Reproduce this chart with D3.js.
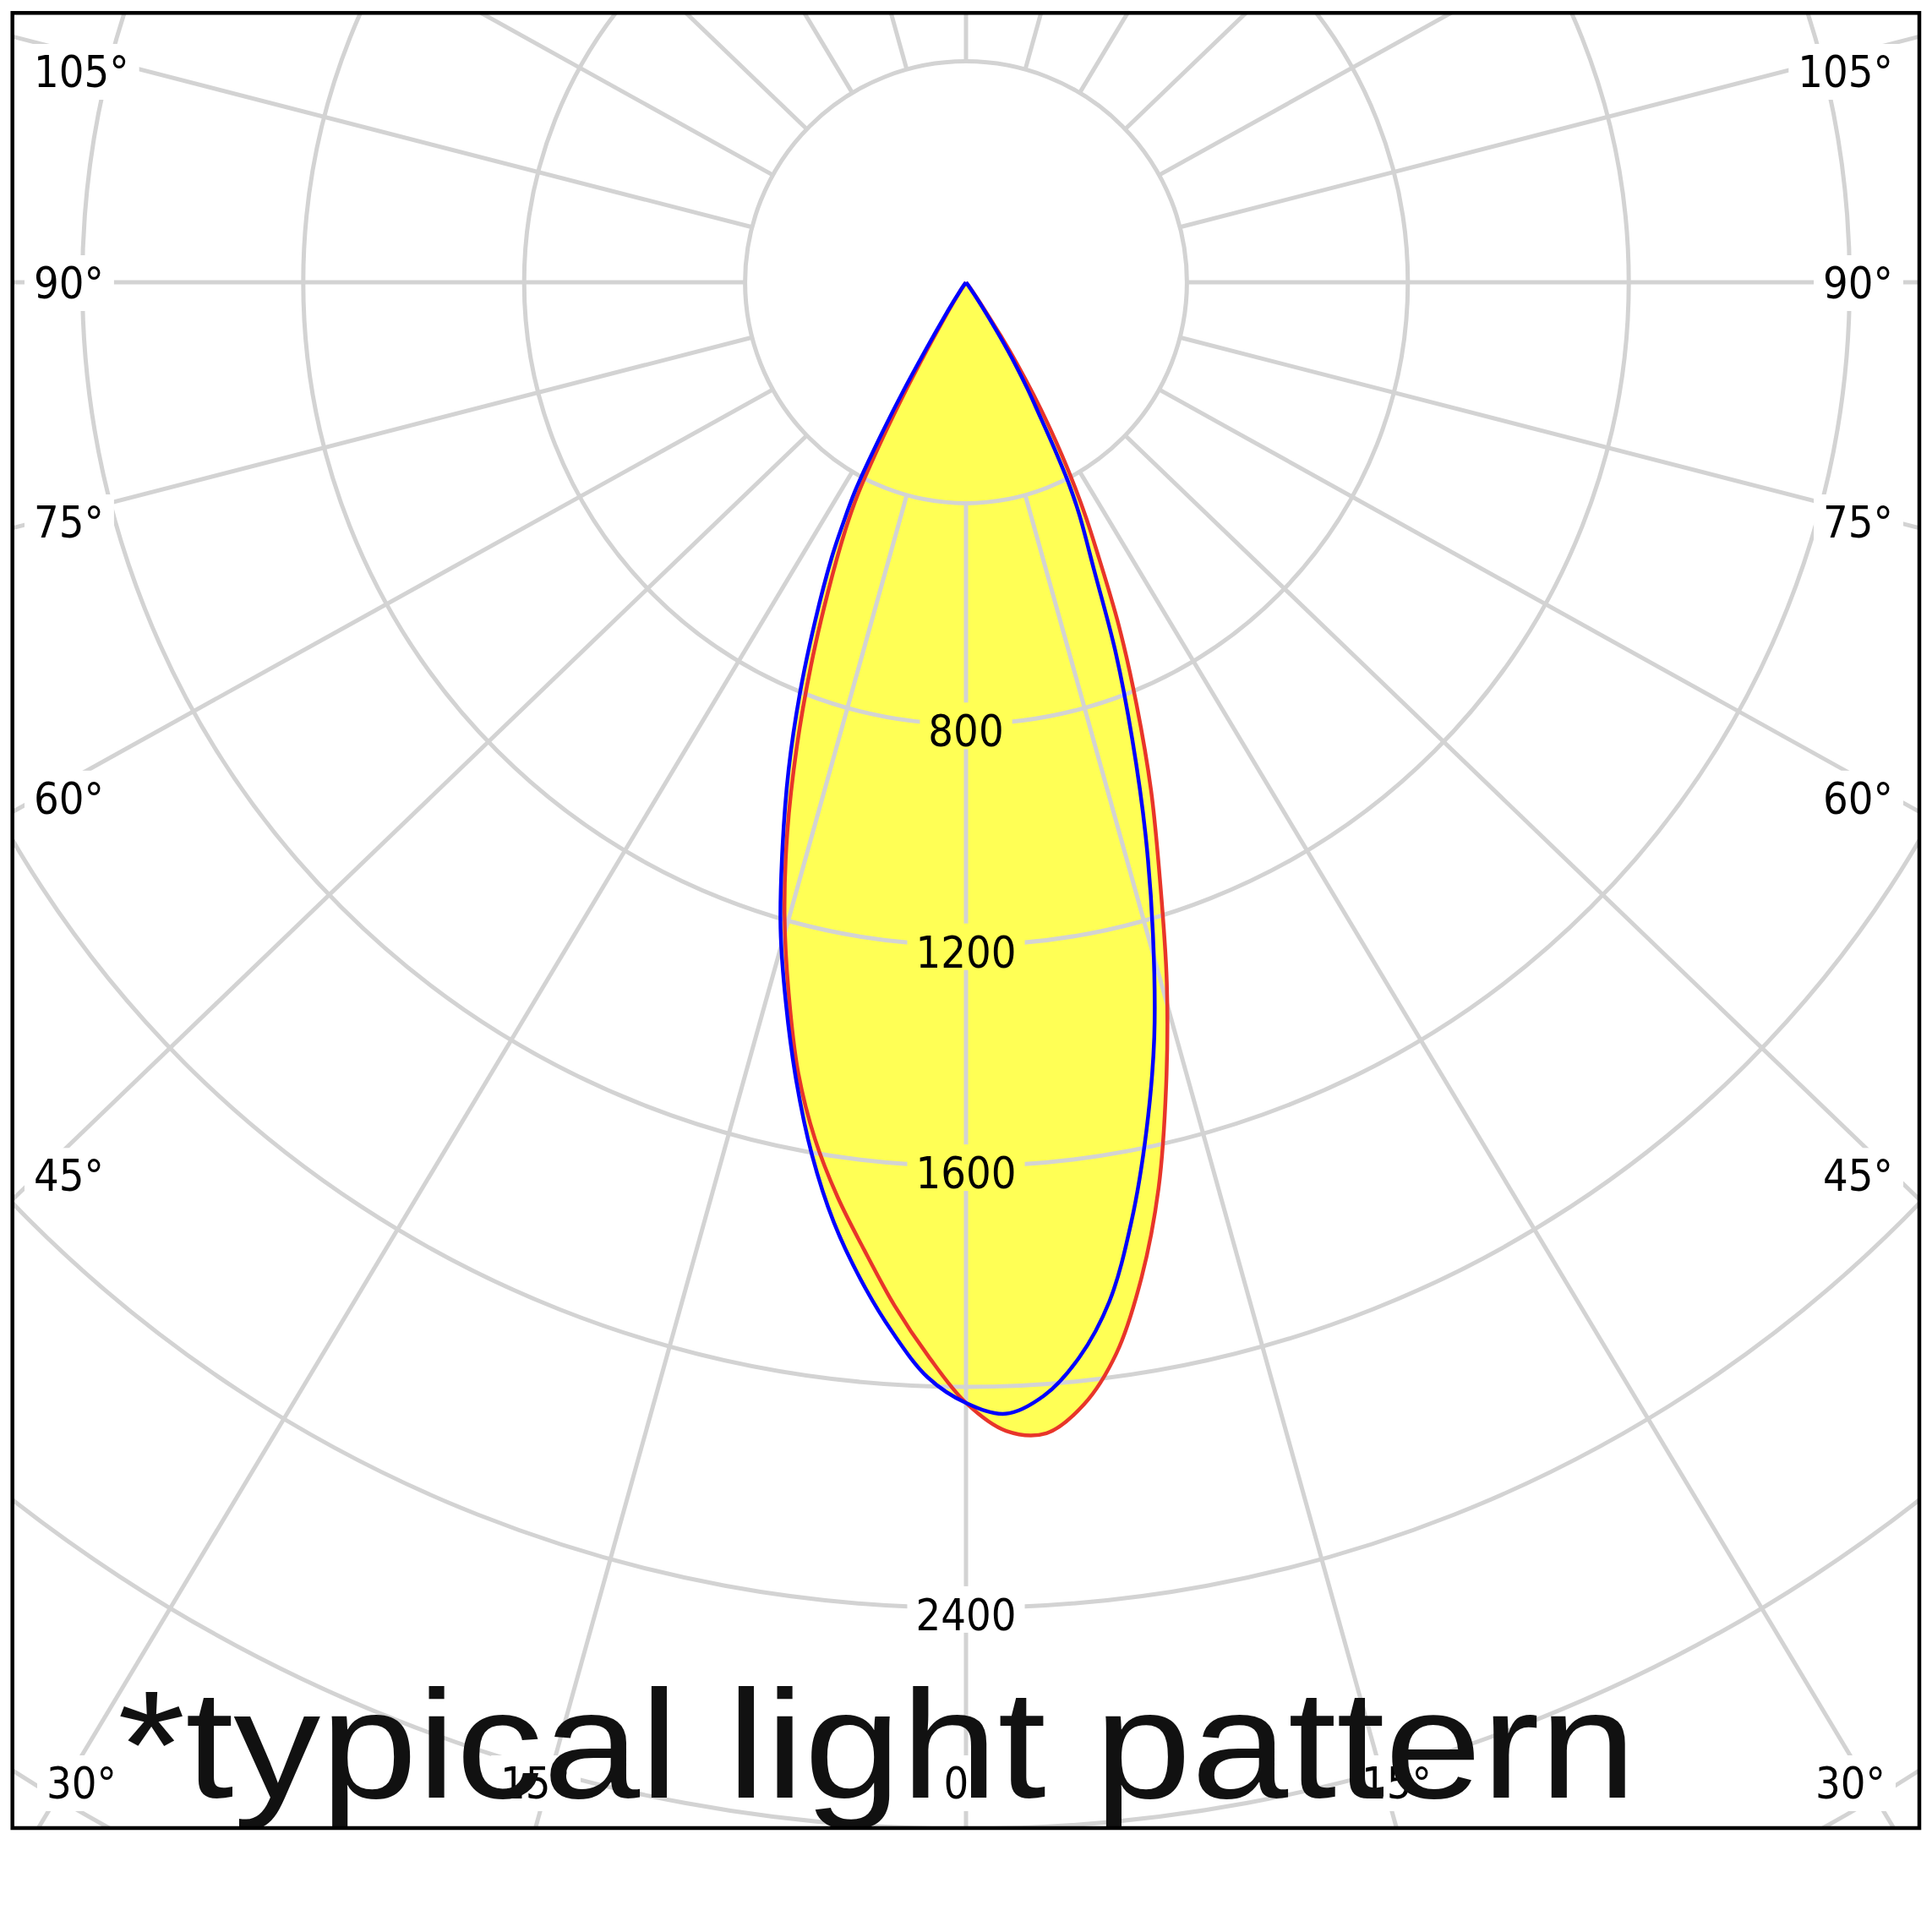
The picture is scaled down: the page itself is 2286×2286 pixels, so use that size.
<!DOCTYPE html>
<html><head><meta charset="utf-8">
<script src="https://cdn.jsdelivr.net/npm/d3@7"></script>
<style>html,body{margin:0;padding:0;background:#fff;} svg{display:block;}</style>
</head><body>
<script>
// gamma angles (deg from nadir) and luminous intensity (cd)
const angles    = [0, 2, 4, 6, 8, 10, 12, 14, 16, 18, 20, 22, 24, 26, 27, 28, 29, 30, 31, 32, 33, 34, 35, 36, 38, 40, 90];
const redRight  = [2029, 2081, 2089, 2043, 1958, 1830, 1677, 1498, 1319, 1136, 980, 824, 680, 538, 480, 420, 359, 298, 237, 176, 115, 62, 30, 13, 0, 0, 0];
const redLeft   = [2029, 1946, 1857, 1762, 1672, 1575, 1462, 1327, 1192, 1047, 896, 750, 615, 497, 433, 335, 234, 140, 80, 45, 24, 11, 5, 0, 0, 0, 0];
const blueRight = [2029, 2050, 2021, 1958, 1864, 1726, 1571, 1409, 1228, 1052, 880, 724, 570, 468, 412, 340, 272, 222, 172, 115, 65, 32, 14, 5, 0, 0, 0];
const blueLeft  = [2029, 1984, 1906, 1817, 1719, 1605, 1478, 1347, 1218, 1075, 939, 803, 672, 555, 491, 427, 325, 224, 130, 75, 42, 22, 10, 4, 0, 0, 0];

const ringValues  = [400, 800, 1200, 1600, 2000, 2400, 2800, 3200];
const ringLabels  = [800, 1200, 1600, 2400];
const spokeAngles = d3.range(0, 360, 15);
const angleLabels = [0, 15, 30, 45, 60, 75, 90, 105];
const noteText = "*typical light pattern";

const W = 2286, H = 2286;
const frame = {x0: 14.7, y0: 15.3, x1: 2271, y1: 2163};
const cx = 1143, cy = 334;
const yAspect = 0.962;
const r = d3.scaleLinear().domain([0, 400]).range([0, 261.4]);
const labelFont = "'DejaVu Sans Condensed', 'Noto Sans', sans-serif";

const svg = d3.select("body").append("svg").attr("width", W).attr("height", H);
svg.append("rect").attr("width", W).attr("height", H).attr("fill", "#fff");
const defs = svg.append("defs");
defs.append("clipPath").attr("id", "frameClip").append("rect")
  .attr("x", frame.x0).attr("y", frame.y0)
  .attr("width", frame.x1 - frame.x0).attr("height", frame.y1 - frame.y0);
const mask = defs.append("mask").attr("id", "gridMask")
  .attr("maskUnits", "userSpaceOnUse").attr("x", 0).attr("y", 0).attr("width", W).attr("height", H);
mask.append("rect").attr("width", W).attr("height", H).attr("fill", "#fff");
function knock(x0, y0, x1, y1) {
  mask.append("rect").attr("x", x0).attr("y", y0)
    .attr("width", x1 - x0).attr("height", y1 - y0).attr("fill", "#000");
}

function curvePoints(left, right) {
  const pts = [];
  for (let i = angles.length - 1; i >= 1; i--) pts.push([-angles[i], left[i]]);
  pts.push([0, right[0]]);
  for (let i = 1; i < angles.length; i++) pts.push([angles[i], right[i]]);
  return pts;
}
const redPts = curvePoints(redLeft, redRight);
const bluePts = curvePoints(blueLeft, blueRight);

const radial = d3.lineRadial()
  .angle(d => Math.PI - d[0] * Math.PI / 180)
  .radius(d => r(d[1]))
  .curve(d3.curveCatmullRom.alpha(0.5));

const plot = svg.append("g").attr("clip-path", "url(#frameClip)");

// fills
const fillG = plot.append("g").attr("transform", `translate(${cx},${cy})`);
fillG.append("path").attr("d", radial(redPts)).attr("fill", "#ffff55");
fillG.append("path").attr("d", radial(bluePts)).attr("fill", "#ffff55");

// grid (masked around labels)
const gridOuter = plot.append("g").attr("mask", "url(#gridMask)");
const grid = gridOuter.append("g").attr("transform", `translate(${cx},${cy})`)
  .attr("fill", "none").attr("stroke", "#d3d3d3").attr("stroke-width", 5);
grid.selectAll("circle.ring").data(ringValues).join("circle")
  .attr("class", "ring").attr("r", d => r(d));
grid.selectAll("line.spoke").data(spokeAngles).join("line")
  .attr("class", "spoke")
  .each(function(a) {
    const t = a * Math.PI / 180;
    let dx = Math.sin(t), dy = yAspect * Math.cos(t);
    const n = Math.hypot(dx, dy); dx /= n; dy /= n;
    const r0 = r(400), r1 = 4000;
    d3.select(this).attr("x1", dx * r0).attr("y1", dy * r0).attr("x2", dx * r1).attr("y2", dy * r1);
  });

// curves
const curveG = plot.append("g").attr("transform", `translate(${cx},${cy})`)
  .attr("fill", "none").attr("stroke-width", 4.5).attr("stroke-linejoin", "round");
curveG.append("path").attr("d", radial(redPts)).attr("stroke", "#e8352a");
curveG.append("path").attr("d", radial(bluePts)).attr("stroke", "#0000ff");

// labels
const labels = svg.append("g").attr("font-family", labelFont).attr("font-size", 52).attr("fill", "#000");

ringLabels.forEach(v => {
  const base = cy + r(v) + 26.5;
  const t = labels.append("text").attr("x", cx).attr("y", base)
    .attr("text-anchor", "middle").text(v);
  const b = t.node().getBBox();
  knock(b.x - 10, base - 52, b.x + b.width + 10, base + 3);
});

const L = 45, R = W - 45, T = 84, B = 2109;
angleLabels.forEach(a => {
  const sides = a === 0 ? [1] : [-1, 1];
  sides.forEach(s => {
    const t = a * Math.PI / 180;
    const dx = s * Math.sin(t), dy = yAspect * Math.cos(t);
    let yc = null, side = false;
    if (a !== 0) {
      const k = (s < 0 ? (cx - L) : (R - cx)) / Math.abs(dx);
      yc = cy + k * dy;
      if (yc <= B) side = true;
    }
    let txt;
    if (side) {
      yc = Math.max(yc, T);
      txt = labels.append("text")
        .attr("x", s < 0 ? 40 : W - 46).attr("y", yc + 19)
        .attr("text-anchor", s < 0 ? "start" : "end").text(a + "°");
    } else {
      const k = (frame.y1 - cy) / dy;
      const xc = cx + k * dx;
      txt = labels.append("text").attr("x", xc).attr("y", B + 19)
        .attr("text-anchor", "middle").text(a + "°");
      const b = txt.node().getBBox();
      if (b.x < 55) txt.attr("x", xc + (55 - b.x));
      if (b.x + b.width > W - 55) txt.attr("x", xc - (b.x + b.width - (W - 55)));
      yc = B;
    }
    const b = txt.node().getBBox();
    knock(b.x - 11, yc + 19 - 51, b.x + b.width + 12, yc + 19 + 15);
  });
});

// note text
svg.append("text").attr("x", 139).attr("y", 2127)
  .attr("font-family", "'Liberation Sans', Arial, sans-serif").attr("font-size", 182)
  .attr("fill", "#111").attr("textLength", 1797).attr("lengthAdjust", "spacingAndGlyphs")
  .text(noteText);

// frame
svg.append("rect").attr("x", frame.x0).attr("y", frame.y0)
  .attr("width", frame.x1 - frame.x0).attr("height", frame.y1 - frame.y0)
  .attr("fill", "none").attr("stroke", "#000").attr("stroke-width", 4.5);
</script>
</body></html>
